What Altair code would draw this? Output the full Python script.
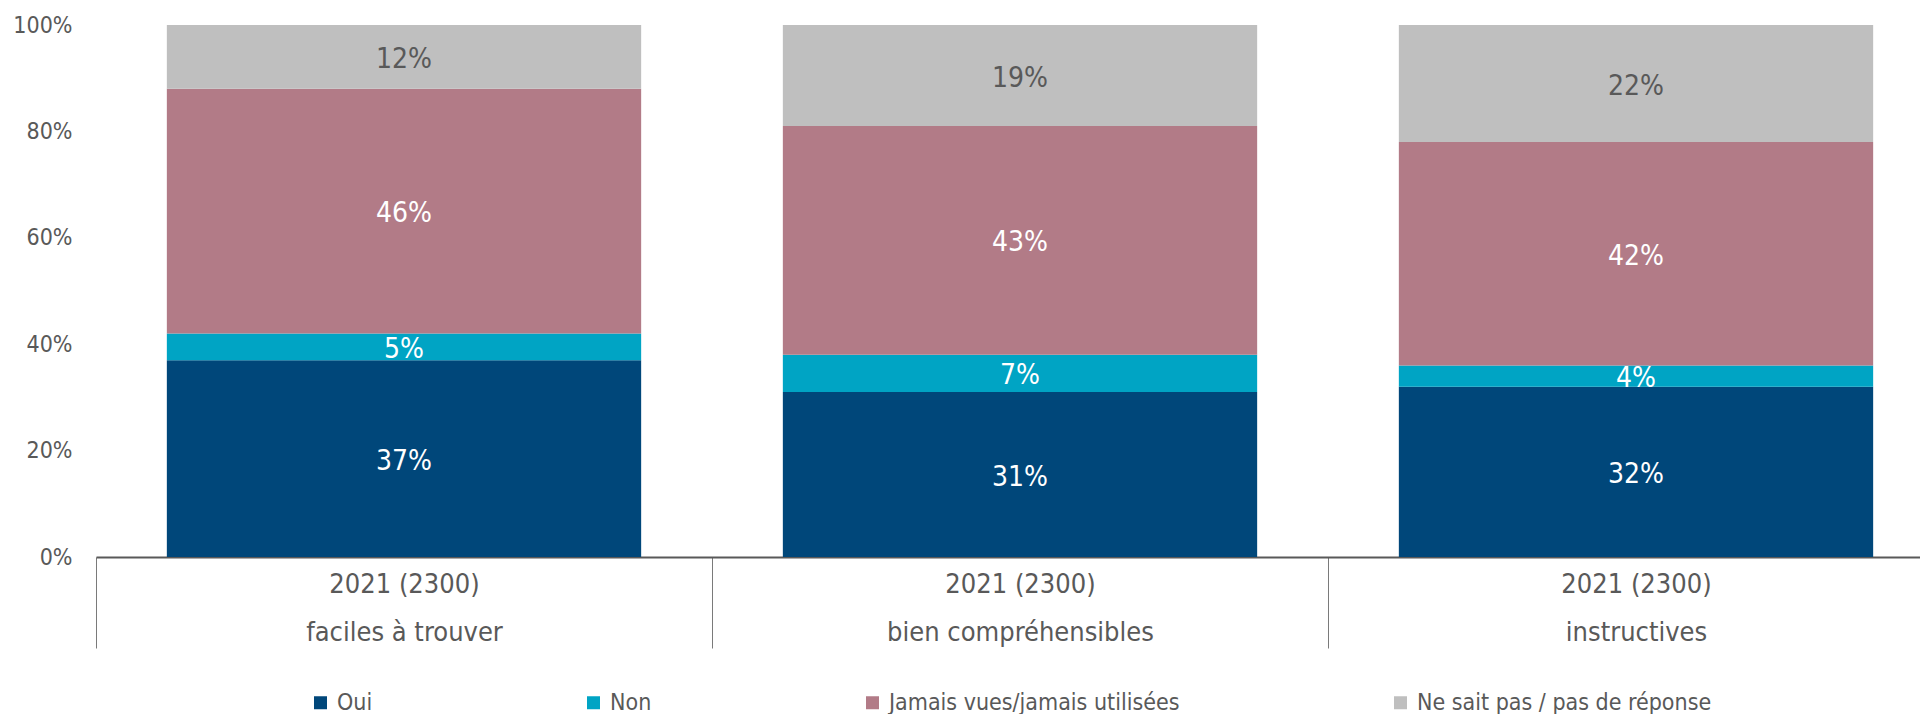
import altair as alt
import pandas as pd

categories = ["faciles à trouver", "bien compréhensibles", "instructives"]
year_label = "2021 (2300)"
series = ["Oui", "Non", "Jamais vues/jamais utilisées", "Ne sait pas / pas de réponse"]
oui = [37, 31, 32]
non = [5, 7, 4]
jamais = [46, 43, 42]
nsp = [12, 19, 22]
y_ticks = [0, 20, 40, 60, 80, 100]
colors = ["#00477A", "#00A4C4", "#B27B87", "#BFBFBF"]

rows = []
for s_i, (name, vals) in enumerate(zip(series, [oui, non, jamais, nsp])):
    for c, v in zip(categories, vals):
        rows.append({"cat": year_label + "|" + c, "series": name, "order": s_i, "value": v})
df = pd.DataFrame(rows)
cat_order = [year_label + "|" + c for c in categories]

font = "DejaVu Sans Condensed, Liberation Sans, sans-serif"
gray = "#595959"

x_enc = alt.X(
    "cat:N", sort=cat_order, title=None,
    scale=alt.Scale(range=[0, 1848], paddingInner=0, paddingOuter=0),
    axis=alt.Axis(
        labelExpr="split(datum.label, '|')", labelAngle=0,
        domainColor=gray, domainWidth=2,
        tickBand="extent", tickSize=91, tickColor="#7A7A7A", tickWidth=1,
        labelPadding=-77, labelFontSize=27, labelColor=gray, labelFont=font,
        labelLineHeight=48, labelBaseline="top", labelLimit=0, labelOverlap=False,
    ),
)
y_scale = alt.Scale(domain=[0, 100], nice=False)

bars = alt.Chart(df).mark_bar(width=alt.RelativeBandSize(0.77)).encode(
    x=x_enc,
    y=alt.Y("value:Q", stack="zero", scale=y_scale, title=None,
            axis=alt.Axis(values=y_ticks, labelExpr="datum.value + '%'", domain=False, ticks=False,
                          grid=False, labelPadding=24, labelFontSize=23, labelColor=gray,
                          labelFont=font)),
    order=alt.Order("order:Q"),
    color=alt.Color("series:N", sort=series,
                    scale=alt.Scale(domain=series, range=colors),
                    legend=alt.Legend(orient="none", legendX=213, legendY=666, direction="horizontal",
                                      columns=4, columnPadding=209, symbolType="square",
                                      symbolSize=169, symbolStrokeWidth=0, labelFontSize=23,
                                      labelColor=gray, labelFont=font, labelOffset=5, title=None,
                                      padding=0, labelLimit=0)),
)

labels = alt.Chart(df).transform_stack(
    stack="value", groupby=["cat"], sort=[alt.SortField("order", order="ascending")], as_=["y0", "y1"]
).transform_calculate(
    mid="(datum.y0 + datum.y1) / 2", txt="datum.value + '%'"
).mark_text(fontSize=28, font=font, baseline="middle", align="center", dy=3).encode(
    x=alt.X("cat:N", sort=cat_order),
    y=alt.Y("mid:Q", scale=y_scale),
    text="txt:N",
    color=alt.condition(alt.datum.series == series[3], alt.value(gray), alt.value("#FFFFFF")),
)

chart = alt.layer(bars, labels).properties(
    width=1824, height=532,
    autosize=alt.AutoSizeParams(type="none"),
    padding={"left": 88, "top": 17, "right": 0, "bottom": 157},
    background="white",
).configure_view(stroke=None)

chart.save("out.html", embed_options={"renderer": "svg", "actions": False})
